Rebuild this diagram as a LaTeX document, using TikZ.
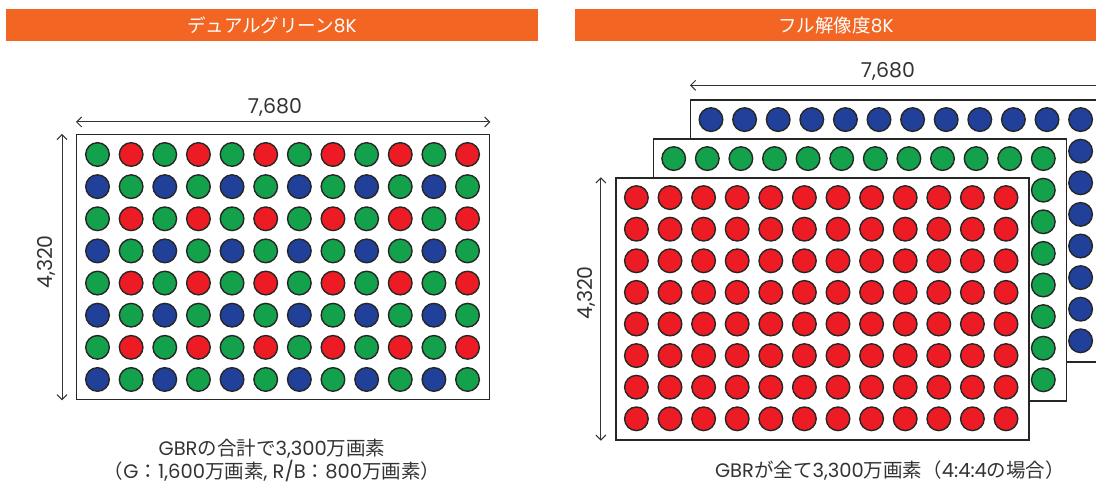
\documentclass[tikz,border=0pt]{standalone}
\usepackage{fontspec}
\setmainfont{Noto Sans CJK JP}
\newfontfamily\lat{Poppins}
\usetikzlibrary{arrows.meta}
\definecolor{hdr}{HTML}{F26522}
\definecolor{pg}{HTML}{14A14B}
\definecolor{pr}{HTML}{ED1C24}
\definecolor{pb}{HTML}{21409A}
\definecolor{ink}{HTML}{333333}
\definecolor{edge}{HTML}{262626}
\colorlet{px0}{pg}
\colorlet{px1}{pr}
\colorlet{px2}{pb}
\colorlet{px3}{pg}
\newcommand\latx[1]{{\lat #1}}
\tikzset{
  hdrbar/.style={fill=hdr, draw=none, minimum height=32pt, text=white,
    font=\fontsize{18.5}{20}\selectfont, inner sep=0pt},
  panel/.style={draw=edge, line width=1.4pt, fill=white, minimum width=413pt,
    inner sep=0pt, anchor=north west},
  pix/.style={circle, draw=edge, line width=1.4pt, minimum size=23.6pt, inner sep=0pt},
  dimline/.style={draw=ink, line width=1pt,
    {Straight Barb[length=5pt,width=10pt]}-{Straight Barb[length=5pt,width=10pt]}},
  dimlabel/.style={text=ink, font=\lat\fontsize{20.5}{22}\selectfont, inner sep=0pt},
  captext/.style={text=ink, font=\fontsize{19.5}{22}\selectfont, inner sep=0pt},
}
\begin{document}
\begin{tikzpicture}[x=1pt, y=-1pt]
\useasboundingbox (0,0) rectangle (1096,486);
\clip (0,0) rectangle (1096,486);

% headers
\node[hdrbar, minimum width=532pt] (hl) at (272,25.5) {デュアルグリーン\latx{8K}};
\node[hdrbar, minimum width=522pt] (hr) at (836,25.5) {フル解像度\latx{8K}};

% ---------- left panel ----------
\node[panel, minimum height=265pt] (L) at (76,134) {};
\foreach \j in {0,...,7}
  \foreach \i in {0,...,11} {
    \pgfmathtruncatemacro\c{mod(\i,2)+2*mod(\j,2)}
    \node[pix, fill=px\c] (l-\j-\i) at ({97.5+33.64*\i},{154.5+32.14*\j}) {};
  }
\draw[dimline] ([yshift=12pt]L.north west) -- ([yshift=12pt]L.north east);
\node[dimlabel] (lw) at (275,107) {7,680};
\draw[dimline] ([xshift=-14pt]L.north west) -- ([xshift=-14pt]L.south west);
\node[dimlabel, rotate=90] (lh) at (46,262) {4,320};
\node[captext] (lc1) at (272,449) {\latx{GBR}の合計で\latx{3,300}万画素};
\node[captext] (lc2) at (272,471) {（\latx{G}：\latx{1,600}万画素\latx{, R/B}：\latx{800}万画素）};

% ---------- right panel ----------
\node[panel, minimum height=262pt] (B) at (690,99.3) {};
\foreach \j in {0,...,7}
  \foreach \i in {0,...,11}
    \node[pix, fill=pb] (b-\j-\i) at ({711+33.6*\i},{119.6+31.6*\j}) {};
\node[panel, minimum height=262pt] (G) at (652.7,138.3) {};
\foreach \j in {0,...,7}
  \foreach \i in {0,...,11}
    \node[pix, fill=pg] (g-\j-\i) at ({673.7+33.6*\i},{158.6+31.6*\j}) {};
\node[panel, minimum height=262pt] (R) at (615.4,177.3) {};
\foreach \j in {0,...,7}
  \foreach \i in {0,...,11}
    \node[pix, fill=pr] (r-\j-\i) at ({636.4+33.6*\i},{197.6+31.6*\j}) {};

\draw[dimline] ([yshift=14pt]B.north west) -- ([yshift=14pt]B.north east);
\node[dimlabel] (rw) at (888,71) {7,680};
\draw[dimline] ([xshift=-14.5pt]R.north west) -- ([xshift=-14.5pt]R.south west);
\node[dimlabel, rotate=90] (rh) at (586.5,293) {4,320};
\node[captext] (rc) at (890,471) {\latx{GBR}が全て\latx{3,300}万画素（\latx{4:4:4}の場合）};
\end{tikzpicture}
\end{document}
